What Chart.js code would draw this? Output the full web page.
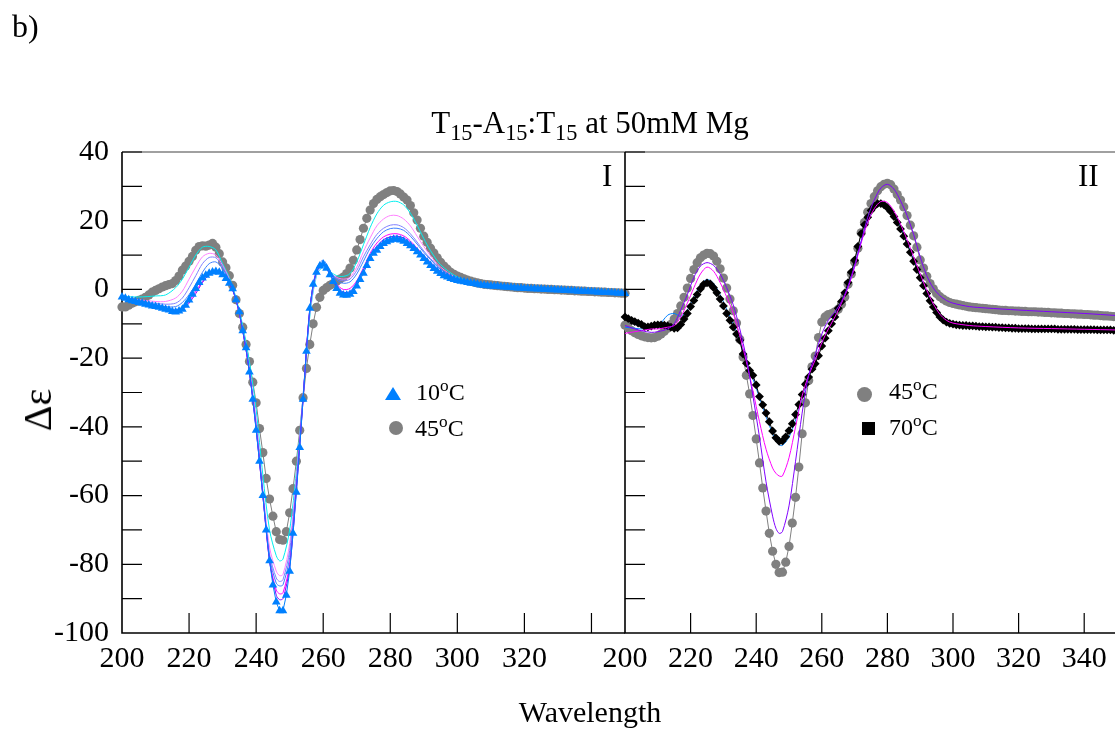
<!DOCTYPE html>
<html><head><meta charset="utf-8">
<script src="https://cdn.jsdelivr.net/npm/chart.js@4.4.1/dist/chart.umd.min.js"></script>
<style>
html,body{margin:0;padding:0;background:#fff;}
#wrap{position:relative;width:1115px;height:732px;overflow:hidden;font-family:"Liberation Serif","Times New Roman",serif;color:#000;}
canvas{position:absolute;top:0;}
.t{position:absolute;white-space:nowrap;line-height:1;}
.t sup{font-size:0.72em;line-height:0;vertical-align:0;position:relative;top:-0.5em;}
.t sub{font-size:0.72em;line-height:0;vertical-align:0;position:relative;top:0.3em;}
.lg{font-size:24px;}
svg{position:absolute;}
</style></head><body>
<div id="wrap">
<canvas id="c1" width="640" height="732" style="left:0;width:640px;height:732px"></canvas>
<canvas id="c2" width="582" height="732" style="left:560px;width:582px;height:732px"></canvas>
<div class="t" style="left:12px;top:10px;font-size:32px">b)</div>
<div class="t" style="left:590px;top:107px;font-size:31px;transform:translateX(-50%)">T<sub>15</sub>-A<sub>15</sub>:T<sub>15</sub> at 50mM Mg</div>
<div class="t" style="left:38px;top:410px;font-size:40px;transform:translate(-50%,-50%) rotate(-90deg)">&Delta;&epsilon;</div>
<div class="t" style="left:590px;top:697px;font-size:30px;transform:translateX(-50%)">Wavelength</div>
<div class="t" style="left:602px;top:160px;font-size:31px">I</div>
<div class="t" style="left:1078px;top:160px;font-size:31px">II</div>
<svg style="left:385px;top:387px" width="16" height="13"><polygon points="8,0 16,13 0,13" fill="#0080ff"/></svg>
<div class="t lg" style="left:416px;top:380px">10<sup>o</sup>C</div>
<svg style="left:389px;top:421px" width="14" height="14"><circle cx="7" cy="7" r="7" fill="#808080"/></svg>
<div class="t lg" style="left:415px;top:416px">45<sup>o</sup>C</div>
<svg style="left:857px;top:387px" width="15" height="15"><circle cx="7.5" cy="7.5" r="7.5" fill="#808080"/></svg>
<div class="t lg" style="left:889px;top:379px">45<sup>o</sup>C</div>
<svg style="left:862px;top:422px" width="13" height="13"><rect x="0" y="0" width="13" height="13" fill="#000"/></svg>
<div class="t lg" style="left:889px;top:415px">70<sup>o</sup>C</div>
</div>
<script>
// ---------------- data ----------------
const wavelengths = [
200,201,202,203,204,205,206,207,208,209,
210,211,212,213,214,215,216,217,218,219,
220,221,222,223,224,225,226,227,228,229,
230,231,232,233,234,235,236,237,238,239,
240,241,242,243,244,245,246,247,248,249,
250,251,252,253,254,255,256,257,258,259,
260,261,262,263,264,265,266,267,268,269,
270,271,272,273,274,275,276,277,278,279,
280,281,282,283,284,285,286,287,288,289,
290,291,292,293,294,295,296,297,298,299,
300,301,302,303,304,305,306,307,308,309,
310,311,312,313,314,315,316,317,318,319,
320,321,322,323,324,325,326,327,328,329,
330,331,332,333,334,335,336,337,338,339,
340,341,342,343,344,345,346,347,348,349,
350];

// Panel I, 10 C (triangles)
const panelI_10C = [
-2.2,-2.6,-3.0,-3.3,-3.5,-3.8,-4.0,-4.3,-4.5,-4.8,
-5.0,-5.2,-5.5,-5.8,-6.0,-6.4,-6.6,-6.3,-5.8,-4.6,
-3.1,-1.4,0.3,2.0,3.3,4.1,4.7,5.1,5.2,5.0,
4.3,3.2,1.8,0.2,-3.0,-6.5,-12,-17,-24,-32,
-41,-50,-60,-70,-79,-86,-91,-93.5,-93.5,-89,
-82,-71,-59,-46,-32,-18,-5.5,1.5,5.0,6.8,
7.3,6.2,4.3,2.3,0.3,-1.1,-1.6,-1.7,-1.4,-0.6,
1.0,2.9,4.7,7.0,9.0,10.5,11.4,12.5,13.4,13.9,
14.3,14.6,14.6,14.4,14.0,13.4,12.7,11.9,11.0,10.0,
9.0,8.0,7.0,6.1,5.3,4.6,4.0,3.6,3.2,2.9,
2.6,2.4,2.2,2.0,1.8,1.7,1.5,1.3,1.2,1.1,
1.0,0.9,0.9,0.8,0.7,0.6,0.6,0.5,0.4,0.4,
0.3,0.3,0.2,0.2,0.1,0.1,0.0,0.0,-0.1,-0.1,
-0.2,-0.2,-0.3,-0.3,-0.4,-0.4,-0.5,-0.5,-0.6,-0.6,
-0.7,-0.7,-0.8,-0.8,-0.9,-0.9,-1.0,-1.0,-1.1,-1.1,
-1.2];

// Panel I, 45 C (circles)
const panelI_45C = [
-5.1,-5.1,-4.6,-4.0,-3.6,-3.2,-2.8,-2.3,-1.6,-0.8,
-0.3,0.2,0.7,1.1,1.4,1.7,2.6,3.9,5.6,6.8,
8.2,9.6,11.4,12.5,12.7,12.6,12.9,13.4,12.3,10.4,
8.0,6.3,4.0,1.2,-3.0,-7,-11,-16,-21,-27,
-33,-40.5,-47.5,-55,-61,-66,-70.5,-72.8,-73,-70.5,
-65,-58,-50,-41,-31.5,-23,-16,-10,-5.2,-2.3,
-0.3,0.5,1.2,1.7,2.4,3.0,3.6,4.6,6.2,8.5,
11.5,14.5,17.8,20.7,23.1,25.0,26.2,27.0,27.6,28.2,
28.7,28.8,28.5,27.8,26.9,26.0,24.4,22.3,20.2,17.8,
15.5,13.7,12.0,10.6,9.2,7.9,6.8,5.9,5.0,4.4,
3.9,3.5,3.1,2.7,2.4,2.1,1.9,1.7,1.5,1.4,
1.3,1.2,1.1,1.0,0.9,0.8,0.7,0.6,0.5,0.5,
0.4,0.3,0.3,0.2,0.2,0.1,0.1,0.0,0.0,-0.1,
-0.1,-0.2,-0.2,-0.3,-0.3,-0.4,-0.4,-0.5,-0.5,-0.6,
-0.6,-0.7,-0.7,-0.8,-0.8,-0.9,-0.9,-1.0,-1.0,-1.1,
-1.1];

// Panel I intermediate temperature traces (read at these wavelengths)
const panelI_lineWl = [200,205,210,213,216,218,220,222,224,226,228,230,232,234,236,238,240,242,244,246,247,248,250,252,254,256,258,260,262,264,266,268,270,272,274,276,278,280,282,284,286,288,290,292,295,300,305,310,320,330,340,350];
const panelI_cyan = [-2.0,-2.2,-1.9,-1.6,0.5,3.0,6.5,10.0,12.3,12.5, 11.5,7.5,3.5,-2.5,-10.5,-21,-35,-54,-70,-77.5, -79,-78.5,-70,-53,-31,-8,4,6.5,5.2,4.0, 3.8,4.6,8.0,13.0,18.0,22.0,24.5,25.5,25.6,24.6, 22.2,18.7,14.8,11.3,7.2,3.6,2.1,1.3,0.4,-0.1, -0.6,-1.1];
const panelI_pink = [-2.5,-3.0,-3.5,-3.5,-2.5,-0.5,3.0,6.5,9.5,10.5, 10.0,7.0,3.0,-3.0,-11.5,-23,-38,-58,-75,-82, -83.3,-83,-74,-55,-31,-7,4.5,6.8,5.0,3.5, 3.0,3.5,6.5,11.0,15.0,18.5,20.5,21.5,21.5,20.5, 18.5,15.5,12.5,9.8,6.5,3.2,1.9,1.2,0.4,-0.1, -0.6,-1.1];
const panelI_lavender = [-2.5,-3.5,-4.0,-4.3,-4.0,-2.5,0.5,4.0,7.5,9.3, 9.2,6.5,2.5,-3.0,-12,-24,-39,-59,-77,-84, -85,-84.5,-76,-56,-31,-6.5,5.0,7.0,5.0,3.2, 2.5,3.0,5.5,9.5,13.0,16.0,17.8,18.7,18.8,18.0, 16.2,13.8,11.2,9.0,6.0,3.0,1.9,1.2,0.4,-0.1, -0.6,-1.1];
const panelI_blue = [-2.0,-3.5,-4.5,-5.0,-5.0,-3.8,-1.5,1.5,5.0,7.5, 8.0,6.0,2.3,-3.0,-12,-24,-40,-59.5,-78,-85.5, -86.3,-86,-78,-57,-31.5,-6,6.0,8.5,5.5,2.8, 1.8,2.2,4.5,8.2,12.0,14.8,16.8,17.7,17.8,17.2, 15.5,13.2,10.8,8.7,5.8,2.9,1.8,1.1,0.4,-0.1, -0.6,-1.1];
const panelI_magenta = [-2.5,-3.8,-5.0,-5.5,-6.0,-5.3,-3.5,-0.5,2.3,4.2, 5.2,4.5,1.8,-3.0,-12,-24,-40.5,-60,-79,-87.5, -88.6,-88.3,-80,-58,-32,-5.8,5.5,7.3,4.5,1.5, 0.0,0.3,2.5,6.3,10.5,13.5,15.3,16.1,16.2,15.6, 14.1,12.0,9.9,7.9,5.3,2.8,1.7,1.1,0.4,-0.1, -0.6,-1.1];
const panelI_purple = [-2.3,-3.6,-5.0,-5.8,-6.3,-5.8,-4.0,-1.2,2.0,4.3, 5.2,4.4,1.8,-3.0,-12,-24,-40.8,-60,-79,-89, -90.3,-90,-81,-58.5,-32,-5.7,5.3,7.3,4.4,1.0, -0.8,-0.6,1.7,5.5,9.8,12.6,14.5,15.3,15.5,15.0, 13.6,11.6,9.6,7.6,5.0,2.7,1.7,1.1,0.4,-0.1, -0.6,-1.1];

// Panel II, 45 C (circles)
const panelII_45C = [
-10.4,-11.2,-12.0,-12.6,-13.1,-13.5,-13.8,-14.0,-14.1,-14.0,
-13.6,-13.0,-12.2,-11.3,-10.2,-8.6,-7.0,-4.8,-2.3,0.4,
3.2,5.8,7.8,9.2,10.0,10.5,10.4,9.7,8.2,6.0,
3.3,0.4,-2.8,-6.2,-9.8,-14.5,-19.7,-25,-30.4,-36.7,
-43.5,-50.5,-57.8,-64.5,-71,-76.2,-80,-82.4,-82.3,-79.4,
-74.8,-68,-60.5,-51.7,-42,-33,-26.5,-22.5,-19.4,-14,
-9.5,-8,-7.3,-7,-6.5,-5.8,-4.3,-2.2,1.5,4.5,
8,12,16.5,19.5,22.5,25,27,28.7,29.9,30.6,
30.9,30.5,29.2,27.6,26,24,21.5,18.7,15.6,12.3,
8.6,6.2,3.8,1.7,0.2,-1.2,-2.1,-2.8,-3.4,-3.8,
-4.1,-4.3,-4.5,-4.7,-4.9,-5.1,-5.2,-5.3,-5.4,-5.5,
-5.6,-5.7,-5.8,-5.9,-6.0,-6.1,-6.1,-6.2,-6.2,-6.3,
-6.3,-6.4,-6.4,-6.5,-6.5,-6.5,-6.6,-6.6,-6.7,-6.7,
-6.8,-6.8,-6.9,-6.9,-7.0,-7.0,-7.1,-7.1,-7.2,-7.2,
-7.3,-7.3,-7.4,-7.5,-7.5,-7.6,-7.7,-7.7,-7.8,-7.9,
-8.0];

// Panel II, 70 C (filled squares)
const panelII_70C = [
-8.0,-8.5,-9.0,-9.4,-9.8,-10.2,-10.8,-10.9,-10.7,-10.4,
-10.3,-10.3,-10.4,-10.6,-11.0,-11.3,-11.2,-10.2,-8.6,-7.0,
-5.0,-3.2,-1.5,0.2,1.5,1.9,1.6,0.5,-1.0,-2.8,
-4.8,-7.0,-9.0,-11,-13,-14.8,-18.8,-21.5,-23.6,-25,
-27.8,-31.2,-33.6,-36,-38.5,-41.2,-43.2,-44.2,-44.1,-42.9,
-41.1,-39.1,-36.4,-33.5,-30.6,-27.6,-25.5,-23.2,-21.6,-19.3,
-16.5,-14.2,-12,-10,-8,-5.5,-3.5,-1,2,5,
8.5,12.5,16.2,18.8,21,23,24.2,25,25,24.6,
23.8,22.7,21.2,19.5,17.6,15.5,13.2,10.8,8.2,5.8,
3.4,1.1,-1.2,-3.3,-5.1,-6.7,-8.0,-8.9,-9.5,-9.9,
-10.1,-10.3,-10.4,-10.5,-10.5,-10.6,-10.6,-10.7,-10.8,-10.8,
-10.9,-10.9,-11.0,-11.0,-11.1,-11.1,-11.2,-11.2,-11.3,-11.3,
-11.4,-11.4,-11.4,-11.4,-11.5,-11.5,-11.5,-11.5,-11.5,-11.5,
-11.5,-11.5,-11.6,-11.6,-11.6,-11.6,-11.6,-11.6,-11.7,-11.7,
-11.7,-11.7,-11.7,-11.7,-11.8,-11.8,-11.8,-11.8,-11.8,-11.9,
-11.9];

// Panel II intermediate traces
const panelII_lineWl = [200,203,205,208,210,213,215,217,219,221,223,225,227,229,231,233,235,237,239,241,243,245,246,247,248,250,252,254,256,258,260,262,264,266,268,270,272,274,276,278,280,282,284,286,288,290,292,294,296,298,300,305,310,320,330,340,350];
const panelII_purple = [-10.5,-11.5,-12,-12.5,-12.3,-11.5,-10,-6,-1.5,3.5, 6.8,7.8,7,4.5,0.5,-4.5,-11.5,-20,-31,-43, -56,-66,-69.5,-71,-70.5,-63,-50,-36,-25,-19, -13,-9,-6.5,-3.5,1,7,14,21,26,29.5, 30.6,29.2,25.8,21.5,16,9.5,4,0.4,-1.8,-3.2, -4,-5,-5.4,-6,-6.5,-7,-7.6];
const panelII_magenta = [-12.8,-12.3,-12,-11.5,-11.5,-11,-10.5,-8,-4,0.5, 4.5,6.5,5.3,2,-2.2,-7,-13.5,-21,-29.5,-38.5, -46.5,-52,-53.5,-54.3,-54.3,-49,-40,-31,-25,-20.5, -15.5,-11.5,-8,-4,0.5,6.5,13.5,19.5,23.5,25.6, 25.3,22.8,19,14.5,9.5,4.5,-0.2,-4.2,-7.2,-9, -9.8,-10.5,-10.8,-11.2,-11.4,-11.6,-11.8];
const panelII_blue = [-11,-11.3,-11.5,-11.2,-10.8,-7.5,-7,-7.8,-6,-2.2, 1.2,2.9,1.8,-1.5,-5.8,-10,-14.8,-21,-26,-31.5, -37,-42,-44,-45.2,-45.4,-43,-38,-31.5,-25.5,-20.5, -15.5,-11.5,-7.5,-3.5,1,7,14,19.8,23.5,25.2, 24.6,22,18.2,13.6,8.7,3.8,-0.8,-4.8,-7.7,-9.3, -10,-10.6,-10.9,-11.3,-11.5,-11.6,-11.9];

// ticks
const xTickValues = [200,220,240,260,280,300,320,340];
const xLabelsI = [200,220,240,260,280,300,320];
const xLabelsII = [200,220,240,260,280,300,320,340];
const yTickValues = [-100,-90,-80,-70,-60,-50,-40,-30,-20,-10,0,10,20,30,40];
const yLabels = [-100,-80,-60,-40,-20,0,20,40];

// ---------------- chart ----------------
const FONT = '"Liberation Serif","Times New Roman",serif';
const pts = (xs, ys) => xs.map((x, i) => ({x: x, y: ys[i]}));

const framePlugin = {
  id: 'frame',
  beforeDatasetsDraw(chart) {
    const {ctx, chartArea: a, scales: {x, y}} = chart;
    ctx.save();
    ctx.strokeStyle = '#808080'; ctx.lineWidth = 1.5;
    ctx.beginPath(); ctx.moveTo(a.left, a.top); ctx.lineTo(a.right, a.top); ctx.stroke();
    ctx.strokeStyle = '#000'; ctx.lineWidth = 1.2;
    ctx.beginPath();
    y.ticks.forEach(t => { if (t.value <= y.min) return; const py = y.getPixelForValue(t.value); ctx.moveTo(a.left, py); ctx.lineTo(a.left + 20, py); });
    x.ticks.forEach(t => { if (t.value <= x.min) return; const px = x.getPixelForValue(t.value); ctx.moveTo(px, a.bottom); ctx.lineTo(px, a.bottom - 20); });
    ctx.stroke();
    ctx.lineWidth = 1.6;
    ctx.beginPath();
    ctx.moveTo(a.left, a.top); ctx.lineTo(a.left, a.bottom); ctx.lineTo(a.right, a.bottom);
    ctx.stroke();
    ctx.restore();
  }
};

function makeScales(xLabels, showY, yWidth) {
  return {
    x: {
      type: 'linear', min: 200, max: 350,
      afterBuildTicks: s => { s.ticks = xTickValues.map(v => ({value: v})); },
      afterFit: s => { s.height = 99; },
      grid: {display: false}, border: {display: false},
      ticks: {autoSkip: false, maxRotation: 0, padding: 0, color: '#000',
        font: {family: FONT, size: 30},
        callback: v => xLabels.includes(v) ? String(v) : ''}
    },
    y: {
      type: 'linear', min: -100, max: 40,
      afterBuildTicks: s => { s.ticks = yTickValues.map(v => ({value: v})); },
      afterFit: s => { s.width = yWidth; },
      grid: {display: false}, border: {display: false},
      ticks: {autoSkip: false, padding: 5, color: '#000',
        font: {family: FONT, size: 30},
        callback: v => (showY && yLabels.includes(v)) ? String(v) : ''}
    }
  };
}

function lineDs(xs, ys, color, order) {
  return {data: pts(xs, ys), borderColor: color, backgroundColor: color, borderWidth: 1,
    pointRadius: 0, tension: 0.3, order: order, clip: false};
}
function markDs(xs, ys, color, style, r, order) {
  return {data: pts(xs, ys), borderColor: color, backgroundColor: color, borderWidth: 1,
    pointRadius: r, pointHoverRadius: r, pointStyle: style, pointBorderWidth: 0,
    tension: 0, order: order, clip: false};
}

const common = {
  responsive: false, animation: false, devicePixelRatio: 1,
  events: [],
  plugins: {legend: {display: false}, tooltip: {enabled: false}, title: {display: false}}
};

new Chart(document.getElementById('c1'), {
  type: 'line',
  data: {datasets: [
    markDs(wavelengths, panelI_10C, '#0080ff', 'triangle', 5, 0),
    lineDs(panelI_lineWl, panelI_purple, '#8000ff', 1),
    lineDs(panelI_lineWl, panelI_magenta, '#ff00ff', 2),
    lineDs(panelI_lineWl, panelI_blue, '#3d7fff', 3),
    lineDs(panelI_lineWl, panelI_lavender, '#8080ff', 4),
    lineDs(panelI_lineWl, panelI_pink, '#ff80ff', 5),
    lineDs(panelI_lineWl, panelI_cyan, '#00eeee', 6),
    markDs(wavelengths, panelI_45C, '#808080', 'circle', 4.6, 7)
  ]},
  options: Object.assign({}, common, {
    layout: {padding: {top: 152, right: 15, left: 0, bottom: 0}},
    scales: makeScales(xLabelsI, true, 122)
  }),
  plugins: [framePlugin]
});

new Chart(document.getElementById('c2'), {
  type: 'line',
  data: {datasets: [
    lineDs(panelII_lineWl, panelII_purple, '#8000ff', 0),
    lineDs(panelII_lineWl, panelII_magenta, '#ff00ff', 1),
    markDs(wavelengths, panelII_70C, '#000000', 'rectRot', 4.4, 2),
    lineDs(panelII_lineWl, panelII_blue, '#0080ff', 3),
    markDs(wavelengths, panelII_45C, '#808080', 'circle', 4.6, 4)
  ]},
  options: Object.assign({}, common, {
    layout: {padding: {top: 152, right: 25, left: 0, bottom: 0}},
    scales: makeScales(xLabelsII, false, 65)
  }),
  plugins: [framePlugin]
});
</script>
</body></html>
